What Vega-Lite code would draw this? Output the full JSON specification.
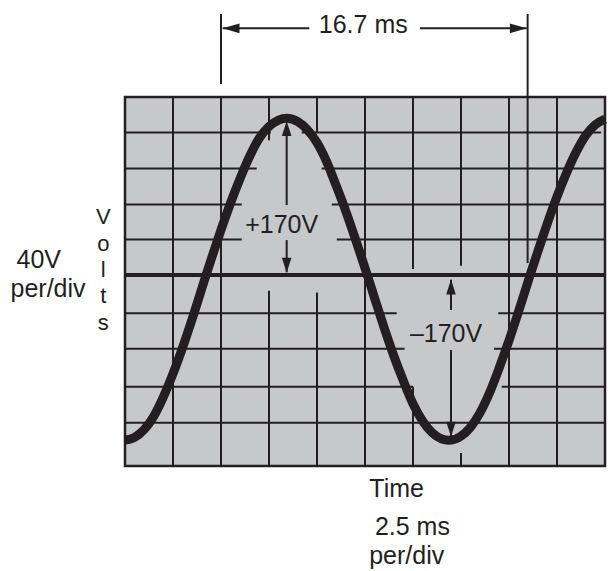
{
  "$schema": "https://vega.github.io/schema/vega-lite/v6.json",
  "width": 480,
  "height": 369,
  "autosize": {"type": "none"},
  "padding": {"left": 125, "top": 97, "right": 11, "bottom": 105},
  "background": "white",
  "config": {"view": {"fill": "#c7c8ca", "stroke": "#231f20", "strokeWidth": 2.5}},
  "datasets": {
    "grid": [
      {"t1": 2.5, "t2": 2.5, "v1": -207, "v2": 193},
      {"t1": 5, "t2": 5, "v1": -207, "v2": 193},
      {"t1": 7.5, "t2": 7.5, "v1": 146, "v2": 193},
      {"t1": 7.5, "t2": 7.5, "v1": -207, "v2": -17},
      {"t1": 10, "t2": 10, "v1": 155, "v2": 193},
      {"t1": 10, "t2": 10, "v1": -207, "v2": -19},
      {"t1": 12.5, "t2": 12.5, "v1": -207, "v2": 193},
      {"t1": 15, "t2": 15, "v1": 6.5, "v2": 193},
      {"t1": 15, "t2": 15, "v1": -207, "v2": -121},
      {"t1": 17.5, "t2": 17.5, "v1": 10, "v2": 193},
      {"t1": 17.5, "t2": 17.5, "v1": -207, "v2": -193},
      {"t1": 20, "t2": 20, "v1": -207, "v2": 193},
      {"t1": 22.5, "t2": 22.5, "v1": -207, "v2": 193},
      {"t1": 5, "t2": 5, "v1": 207, "v2": 283},
      {"t1": 20.97, "t2": 20.97, "v1": 13, "v2": 283},
      {"t1": 0, "t2": 7.6, "v1": 154.5, "v2": 154.5},
      {"t1": 9.2, "t2": 24.8, "v1": 154.5, "v2": 154.5},
      {"t1": 0, "t2": 6.86, "v1": 115.4, "v2": 115.4},
      {"t1": 10.24, "t2": 25, "v1": 115.4, "v2": 115.4},
      {"t1": 0, "t2": 6.08, "v1": 76.4, "v2": 76.4},
      {"t1": 10.77, "t2": 25, "v1": 76.4, "v2": 76.4},
      {"t1": 0, "t2": 6.08, "v1": 38.5, "v2": 38.5},
      {"t1": 11.03, "t2": 25, "v1": 38.5, "v2": 38.5},
      {"t1": 0, "t2": 14.15, "v1": -41.5, "v2": -41.5},
      {"t1": 19.44, "t2": 25, "v1": -41.5, "v2": -41.5},
      {"t1": 0, "t2": 14.56, "v1": -80, "v2": -80},
      {"t1": 19.22, "t2": 25, "v1": -80, "v2": -80},
      {"t1": 0, "t2": 15, "v1": -121, "v2": -121},
      {"t1": 19.62, "t2": 25, "v1": -121, "v2": -121},
      {"t1": 0, "t2": 25, "v1": -160, "v2": -160}
    ],
    "center": [{"t1": 0, "t2": 25, "v1": 0, "v2": 0}],
    "shafts": [
      {"t1": 5.09, "t2": 9.6, "v1": 267.4, "v2": 267.4},
      {"t1": 15.36, "t2": 20.92, "v1": 267.4, "v2": 267.4},
      {"t1": 8.42, "t2": 8.42, "v1": 75.9, "v2": 160},
      {"t1": 8.42, "t2": 8.42, "v1": 3, "v2": 37.9},
      {"t1": 16.98, "t2": 16.98, "v1": -37.9, "v2": -5},
      {"t1": 16.98, "t2": 16.98, "v1": -175, "v2": -81.3}
    ],
    "heads": [
      {"t": 5.09, "v": 267.4, "dir": "left"},
      {"t": 20.92, "v": 267.4, "dir": "right"},
      {"t": 8.42, "v": 166.9, "dir": "up"},
      {"t": 8.42, "v": 2.5, "dir": "down"},
      {"t": 16.98, "v": -4.7, "dir": "up"},
      {"t": 16.98, "v": -175.3, "dir": "down"}
    ],
    "curve": [
      {"t": 0, "v": -179}, {"t": 0.5, "v": -176}, {"t": 1.0, "v": -167.5}, {"t": 1.5, "v": -153},
      {"t": 2.0, "v": -132}, {"t": 2.5, "v": -106.9}, {"t": 3.0, "v": -78.5}, {"t": 3.5, "v": -47.4},
      {"t": 4.0, "v": -14.6}, {"t": 4.22, "v": 0}, {"t": 4.5, "v": 17.8}, {"t": 5.0, "v": 48.9},
      {"t": 5.5, "v": 78.3}, {"t": 6.0, "v": 105.0}, {"t": 6.5, "v": 129}, {"t": 7.0, "v": 148.5},
      {"t": 7.5, "v": 161}, {"t": 8.0, "v": 168}, {"t": 8.42, "v": 170}, {"t": 9.0, "v": 166.3},
      {"t": 9.5, "v": 157.5}, {"t": 10.0, "v": 143.5}, {"t": 10.5, "v": 123}, {"t": 11.0, "v": 96.8},
      {"t": 11.5, "v": 69.2}, {"t": 12.0, "v": 39.0}, {"t": 12.5, "v": 7.6}, {"t": 12.62, "v": 0},
      {"t": 13.0, "v": -25.1}, {"t": 13.5, "v": -57.3}, {"t": 14.0, "v": -87.6}, {"t": 14.5, "v": -114.8},
      {"t": 15.0, "v": -139.5}, {"t": 15.5, "v": -158.3}, {"t": 16.0, "v": -171}, {"t": 16.5, "v": -177.7},
      {"t": 16.86, "v": -179}, {"t": 17.0, "v": -178.9}, {"t": 17.5, "v": -174.6}, {"t": 18.0, "v": -164.8},
      {"t": 18.5, "v": -148.8}, {"t": 19.0, "v": -127}, {"t": 19.5, "v": -100.1}, {"t": 20.0, "v": -71.0},
      {"t": 20.5, "v": -39.4}, {"t": 21.0, "v": -6.6}, {"t": 21.1, "v": 0}, {"t": 21.5, "v": 25.3},
      {"t": 22.0, "v": 56.2}, {"t": 22.5, "v": 85.0}, {"t": 23.0, "v": 110.9}, {"t": 23.5, "v": 133.5},
      {"t": 24.0, "v": 151.5}, {"t": 24.5, "v": 163}, {"t": 25.0, "v": 169}
    ],
    "labels": [
      {"t": 12.41, "v": 262, "text": "16.7 ms"},
      {"t": 8.16, "v": 45.2, "text": "+170V"},
      {"t": 16.72, "v": -72.3, "text": "–170V"},
      {"t": -4.49, "v": 7.3, "text": "40V"},
      {"t": -4.01, "v": -23.3, "text": "per/div"},
      {"t": 14.15, "v": -240.3, "text": "Time"},
      {"t": 14.97, "v": -281.8, "text": "2.5 ms"},
      {"t": 14.67, "v": -313.3, "text": "per/div"}
    ],
    "volts": [
      {"t": -1.13, "v": 55.3, "text": "V"},
      {"t": -1.13, "v": 26.0, "text": "o"},
      {"t": -1.13, "v": -2.2, "text": "l"},
      {"t": -1.13, "v": -30.4, "text": "t"},
      {"t": -1.13, "v": -59.6, "text": "s"}
    ]
  },
  "layer": [
    {
      "data": {"name": "grid"},
      "mark": {"type": "rule", "color": "#231f20", "strokeWidth": 2},
      "encoding": {
        "x": {"field": "t1", "type": "quantitative", "scale": {"domain": [0, 25], "nice": false, "zero": false}, "axis": null},
        "x2": {"field": "t2"},
        "y": {"field": "v1", "type": "quantitative", "scale": {"domain": [-207, 193], "nice": false, "zero": false}, "axis": null},
        "y2": {"field": "v2"}
      }
    },
    {
      "data": {"name": "center"},
      "mark": {"type": "rule", "color": "#231f20", "strokeWidth": 4},
      "encoding": {
        "x": {"field": "t1", "type": "quantitative", "scale": {"domain": [0, 25], "nice": false, "zero": false}, "axis": null},
        "x2": {"field": "t2"},
        "y": {"field": "v1", "type": "quantitative", "scale": {"domain": [-207, 193], "nice": false, "zero": false}, "axis": null},
        "y2": {"field": "v2"}
      }
    },
    {
      "data": {"name": "shafts"},
      "mark": {"type": "rule", "color": "#231f20", "strokeWidth": 2},
      "encoding": {
        "x": {"field": "t1", "type": "quantitative", "scale": {"domain": [0, 25], "nice": false, "zero": false}, "axis": null},
        "x2": {"field": "t2"},
        "y": {"field": "v1", "type": "quantitative", "scale": {"domain": [-207, 193], "nice": false, "zero": false}, "axis": null},
        "y2": {"field": "v2"}
      }
    },
    {
      "data": {"name": "heads"},
      "mark": {"type": "point", "filled": true, "fill": "#231f20", "opacity": 1, "strokeWidth": 0, "size": 900},
      "encoding": {
        "x": {"field": "t", "type": "quantitative", "scale": {"domain": [0, 25], "nice": false, "zero": false}, "axis": null},
        "y": {"field": "v", "type": "quantitative", "scale": {"domain": [-207, 193], "nice": false, "zero": false}, "axis": null},
        "shape": {
          "field": "dir", "type": "nominal", "legend": null,
          "scale": {
            "domain": ["up", "down", "left", "right"],
            "range": ["M0,0L-0.32,1L0.32,1Z", "M0,0L-0.32,-1L0.32,-1Z", "M0,0L1.12,-0.33L1.12,0.33Z", "M0,0L-1.12,-0.33L-1.12,0.33Z"]
          }
        }
      }
    },
    {
      "data": {"name": "curve"},
      "mark": {"type": "line", "color": "#231f20", "strokeWidth": 9, "interpolate": "monotone", "strokeCap": "butt"},
      "encoding": {
        "x": {"field": "t", "type": "quantitative", "scale": {"domain": [0, 25], "nice": false, "zero": false}, "axis": null},
        "y": {"field": "v", "type": "quantitative", "scale": {"domain": [-207, 193], "nice": false, "zero": false}, "axis": null}
      }
    },
    {
      "data": {"name": "labels"},
      "mark": {"type": "text", "font": "Liberation Sans", "fontSize": 25, "color": "#231f20", "align": "center", "baseline": "alphabetic"},
      "encoding": {
        "x": {"field": "t", "type": "quantitative", "scale": {"domain": [0, 25], "nice": false, "zero": false}, "axis": null},
        "y": {"field": "v", "type": "quantitative", "scale": {"domain": [-207, 193], "nice": false, "zero": false}, "axis": null},
        "text": {"field": "text"}
      }
    },
    {
      "data": {"name": "volts"},
      "mark": {"type": "text", "font": "Liberation Sans", "fontSize": 22, "color": "#231f20", "align": "center", "baseline": "alphabetic"},
      "encoding": {
        "x": {"field": "t", "type": "quantitative", "scale": {"domain": [0, 25], "nice": false, "zero": false}, "axis": null},
        "y": {"field": "v", "type": "quantitative", "scale": {"domain": [-207, 193], "nice": false, "zero": false}, "axis": null},
        "text": {"field": "text"}
      }
    }
  ]
}
